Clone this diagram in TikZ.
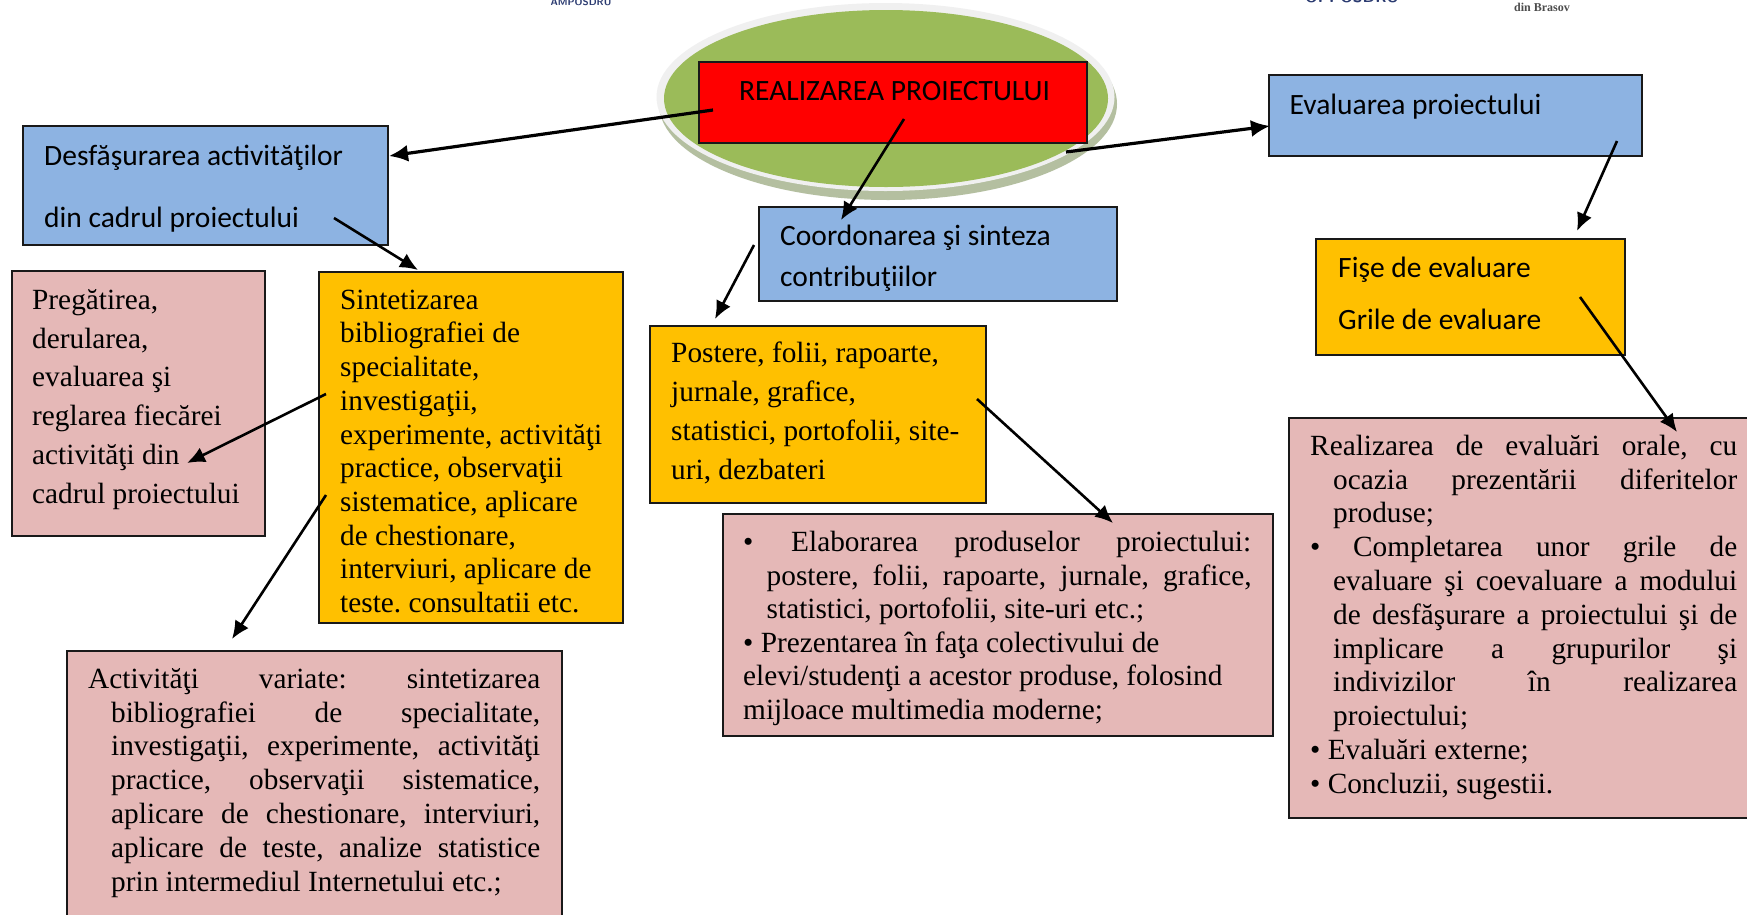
\documentclass[tikz,border=0pt]{standalone}
\usepackage{fontspec}
\setmainfont{Liberation Serif}
\newfontfamily\calib{Carlito}
\usetikzlibrary{arrows.meta}
\definecolor{cblue}{HTML}{8DB3E2}
\definecolor{cyel}{HTML}{FFC000}
\definecolor{cpink}{HTML}{E5B8B7}
\definecolor{cgreen}{HTML}{9BBB59}
\definecolor{cshadow}{HTML}{B4BFA0}
\definecolor{clight}{HTML}{F0F0F0}
\definecolor{clogo}{HTML}{2A3A70}
\newcommand{\bx}[7]{\node[#1,anchor=north west,inner sep=0pt] (#2) at (#3,#4) {\vbox to #6pt{\hrule height0pt width #5pt\relax #7\vss}};}
\newcommand{\tp}[2]{\frenchspacing\baselineskip=#2pt\relax\vskip #1pt\relax}
\newcommand{\tl}[2]{\hbox{\hskip #1pt\smash{#2}}}
\newcommand{\jl}[3]{\hbox{\hskip #1pt\smash{\makebox[#2pt][s]{#3}}}}
\tikzset{
  boxbase/.style={draw=black!90,line width=2.4pt,rectangle},
  serifbox/.style={boxbase,font=\fontsize{29.3}{33}\selectfont},
  sansbox/.style={boxbase,font=\calib\fontsize{29.5}{33}\selectfont},
  conn/.style={line width=2.6pt,-{Latex[length=18pt,width=16pt]}},
  connthick/.style={line width=3.2pt,-{Latex[length=19pt,width=17pt]}},
  logotext/.style={inner sep=0pt,text=clogo}
}
\begin{document}
\begin{tikzpicture}[x=1pt,y=-1pt]
\clip (0,0) rectangle (1747,914);
\fill[white] (0,0) rectangle (1747,914);
% logo remnants
\node[logotext,font=\sffamily\bfseries\fontsize{10}{10}\selectfont] (logoa) at (581,2) {AMPOSDRU};
\node[logotext,font=\sffamily\bfseries\fontsize{16}{16}\selectfont] (logob) at (1352,-3) {OI POSDRU};
\node[logotext,font=\bfseries\fontsize{12}{12}\selectfont,text=black!70] (logoc) at (1542,7) {din Brasov};
% central ellipse
\fill[cshadow] (888,104) ellipse [x radius=229,y radius=96];
\fill[clight] (885.5,97) ellipse [x radius=229,y radius=94];
\fill[cgreen] (886,98.5) ellipse [x radius=222,y radius=88.5];
% boxes
\begin{scope}[shift={(-1,-1)}]
\bx{sansbox,fill=red}{red}{699}{61.5}{388}{81}{\tp{38.5}{33}\tl{40}{REALIZAREA PROIECTULUI}}
\bx{sansbox,fill=cblue}{blueL}{23}{126}{365}{119}{\tp{39}{62}\tl{21}{Desfăşurarea activităţilor}\tl{21}{din cadrul proiectului}}
\bx{sansbox,fill=cblue}{blueC}{759}{206.5}{358}{94.5}{\tp{38.5}{41}\tl{21}{Coordonarea şi sinteza}\tl{21}{contribuţiilor}}
\bx{sansbox,fill=cblue}{blueR}{1268.5}{75}{373.5}{81}{\tp{39}{33}\tl{21}{Evaluarea proiectului}}
\bx{serifbox,fill=cpink}{pinkL}{12}{271}{252.5}{264.5}{\tp{38}{38.8}\tl{20}{Pregătirea,}\tl{20}{derularea,}\tl{20}{evaluarea şi}\tl{20}{reglarea fiecărei}\tl{20}{activităţi din}\tl{20}{cadrul proiectului}}
\bx{serifbox,fill=cyel}{yelL}{319}{271.5}{304}{351.5}{\tp{37.5}{33.7}\tl{21}{Sintetizarea}\tl{21}{bibliografiei de}\tl{21}{specialitate,}\tl{21}{investigaţii,}\tl{21}{experimente, activităţi}\tl{21}{practice, observaţii}\tl{21}{sistematice, aplicare}\tl{21}{de chestionare,}\tl{21}{interviuri, aplicare de}\tl{21}{teste. consultatii etc.}}
\bx{serifbox,fill=cyel}{yelC}{650}{325.5}{336}{177}{\tp{37}{39}\tl{21}{Postere, folii, rapoarte,}\tl{21}{jurnale, grafice,}\tl{21}{statistici, portofolii, site-}\tl{21}{uri, dezbateri}}
\bx{sansbox,fill=cyel}{yelR}{1316}{239}{309}{116}{\tp{38}{52}\tl{22}{Fişe de evaluare}\tl{22}{Grile de evaluare}}
\bx{serifbox,fill=cpink}{pinkC}{722.5}{513.5}{550}{222}{\tp{38}{33.5}\hbox{\hskip 20.5pt\smash{•}\hskip 0pt}\vskip-33.5pt\jl{68.5}{460}{Elaborarea produselor proiectului:}\jl{44}{485}{postere, folii, rapoarte, jurnale, grafice,}\tl{44}{statistici, portofolii, site-uri etc.;}\tl{20.5}{• Prezentarea în faţa colectivului de}\tl{20.5}{elevi/studenţi a acestor produse, folosind}\tl{20.5}{mijloace multimedia moderne;}}
\bx{serifbox,fill=cpink}{pinkR}{1289}{418}{480}{400}{\tp{37}{33.8}\jl{21}{427}{Realizarea de evaluări orale, cu}\jl{44}{404}{ocazia prezentării diferitelor}\tl{44}{produse;}\tl{21}{•}\vskip-33.8pt\jl{64}{384}{Completarea unor grile de}\jl{44}{404}{evaluare şi coevaluare a modului}\jl{44}{404}{de desfăşurare a proiectului şi de}\jl{44}{404}{implicare a grupurilor şi}\jl{44}{404}{indivizilor în realizarea}\tl{44}{proiectului;}\tl{21}{• Evaluări externe;}\tl{21}{• Concluzii, sugestii.}}
\bx{serifbox,fill=cpink}{pinkB}{67}{651}{494.5}{290}{\tp{37}{33.8}\jl{21}{452}{Activităţi variate: sintetizarea}\jl{44}{429}{bibliografiei de specialitate,}\jl{44}{429}{investigaţii, experimente, activităţi}\jl{44}{429}{practice, observaţii sistematice,}\jl{44}{429}{aplicare de chestionare, interviuri,}\jl{44}{429}{aplicare de teste, analize statistice}\tl{44}{prin intermediul Internetului etc.;}}
\end{scope}
% connector ends
\coordinate (a1s) at (713,110); \coordinate (a1e) at (389,156);
\coordinate (a2s) at (904,119); \coordinate (a2e) at (841,220);
\coordinate (a3s) at (1066,152); \coordinate (a3e) at (1270,126);
\coordinate (a4s) at (334,218); \coordinate (a4e) at (418,270);
\coordinate (a5s) at (326,394); \coordinate (a5e) at (187,463);
\coordinate (a6s) at (326,495); \coordinate (a6e) at (232,639);
\coordinate (a7s) at (754,245); \coordinate (a7e) at (715,319);
\coordinate (a8s) at (977,399); \coordinate (a8e) at (1113,523);
\coordinate (a9s) at (1617,141); \coordinate (a9e) at (1577,231);
\coordinate (a10s) at (1580,297); \coordinate (a10e) at (1677,432);
\draw[connthick] (a1s) -- (a1e);
\draw[conn] (a2s) -- (a2e);
\draw[connthick] (a3s) -- (a3e);
\draw[conn] (a4s) -- (a4e);
\draw[conn] (a5s) -- (a5e);
\draw[conn] (a6s) -- (a6e);
\draw[conn] (a7s) -- (a7e);
\draw[conn] (a8s) -- (a8e);
\draw[conn] (a9s) -- (a9e);
\draw[conn] (a10s) -- (a10e);
\end{tikzpicture}
\end{document}
